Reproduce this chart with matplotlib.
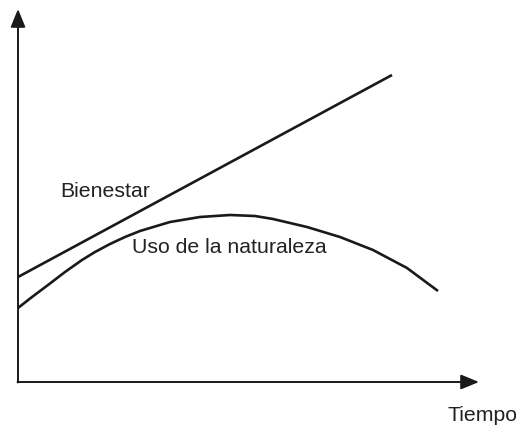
import matplotlib
matplotlib.use("Agg")
import matplotlib.pyplot as plt

# datos (unidades arbitrarias)
t_bien = [0, 374]
v_bien = [105, 307]

t_uso = [0, 14, 30, 47, 64, 77, 92, 107, 122, 152, 182, 212, 237, 255, 289, 322, 355, 389, 420]
v_uso = [74, 85, 97, 110, 122, 130, 138, 145, 151, 160, 165, 167, 166, 163, 155, 145, 132, 114, 91]

labels = ["Bienestar", "Uso de la naturaleza", "Tiempo"]

plt.rcParams['font.family'] = ['Liberation Sans', 'DejaVu Sans']

fig = plt.figure(figsize=(5.16, 4.26), dpi=100)
ax = fig.add_axes([0, 0, 1, 1])
ax.set_xlim(-18, 498)
ax.set_ylim(-44, 382)
ax.axis('off')

ax.plot(t_bien, v_bien, color='#1a1a1a', lw=1.9, solid_capstyle='butt')
ax.plot(t_uso, v_uso, color='#1a1a1a', lw=1.9, solid_capstyle='butt',
        solid_joinstyle='round')

# ejes con flecha
ax.annotate('', xy=(461, 0), xytext=(-0.5, 0),
            arrowprops=dict(arrowstyle='-|>,head_length=1.1,head_width=0.45',
                            color='#1a1a1a', lw=1.4, shrinkA=0, shrinkB=0))
ax.annotate('', xy=(0, 373), xytext=(0, -0.5),
            arrowprops=dict(arrowstyle='-|>,head_length=1.1,head_width=0.45',
                            color='#1a1a1a', lw=1.4, shrinkA=0, shrinkB=0))

ax.text(42, 185, labels[0], fontsize=15.3, color='#222222', va='baseline')
ax.text(114, 129, labels[1], fontsize=15.3, color='#222222', va='baseline')
ax.text(429, -39, labels[2], fontsize=15.3, color='#222222', va='baseline')

plt.savefig("out.png", dpi=100)
